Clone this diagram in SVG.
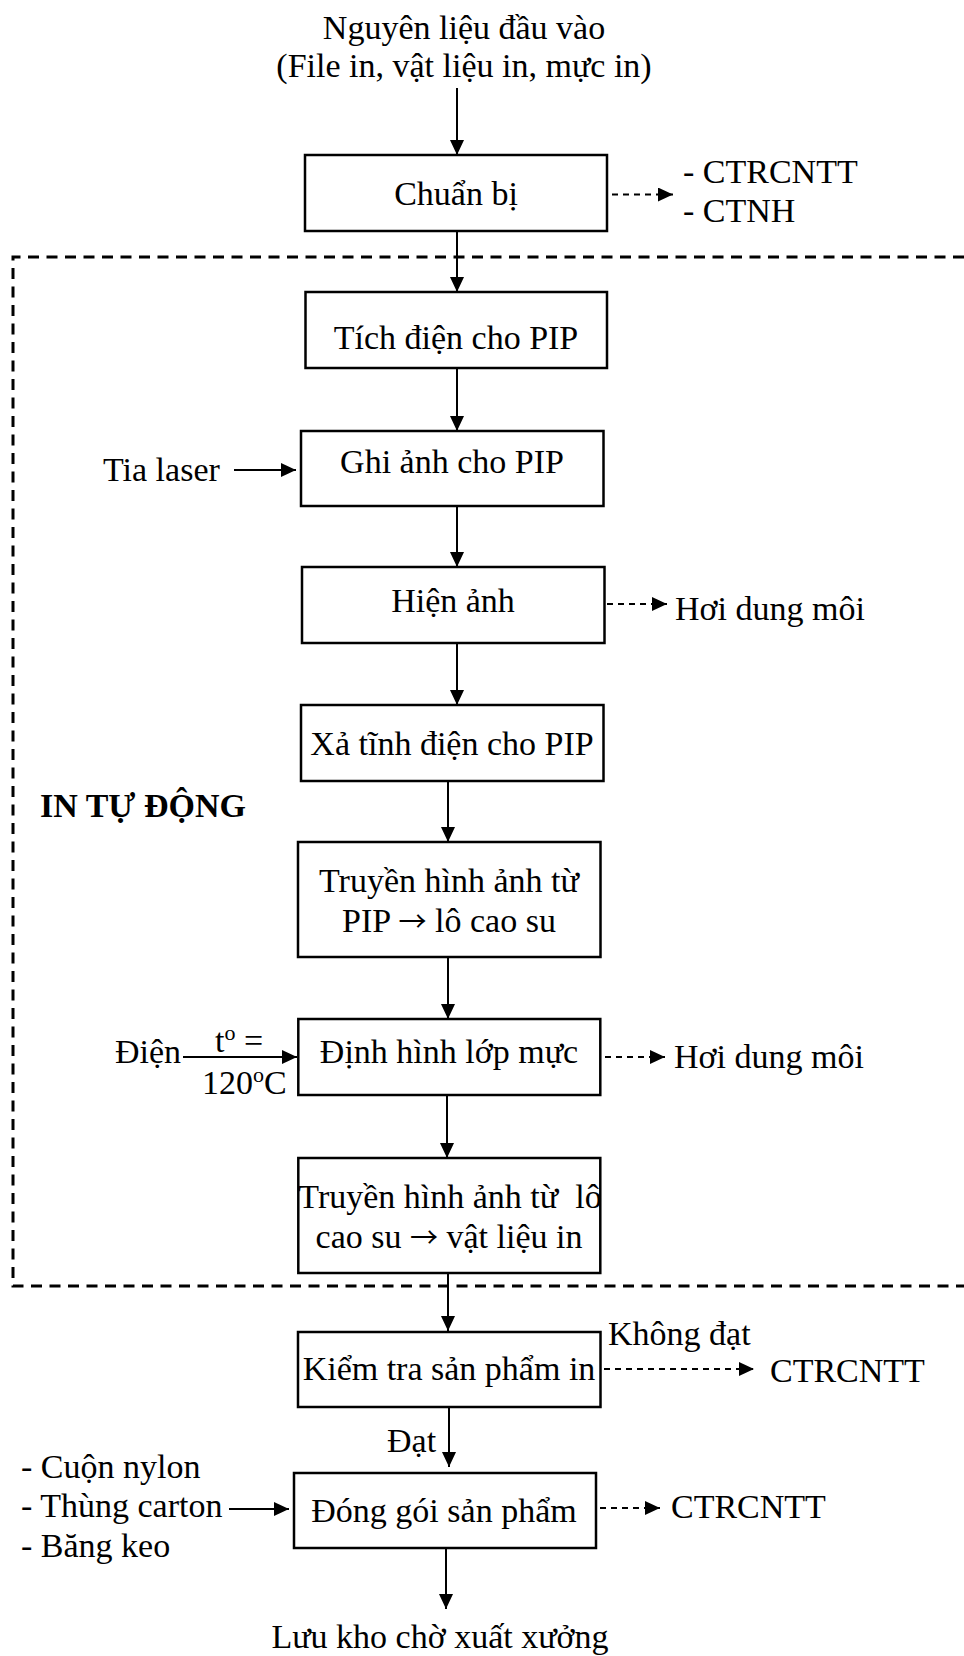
<svg xmlns="http://www.w3.org/2000/svg" width="964" height="1656" viewBox="0 0 964 1656">
  <style>
    text { font-family: "Liberation Serif", "Times New Roman", serif; font-size: 34px; fill: #000; }
    .c { text-anchor: middle; }
    .b { font-weight: bold; }
    .arr { font-family: "Noto Sans CJK SC", "DejaVu Serif", sans-serif; font-size: 28px; }
    .box { fill: #fff; stroke: #000; stroke-width: 2.5; }
    .ln { fill: none; stroke: #000; stroke-width: 2; }
    .dl { fill: none; stroke: #000; stroke-width: 2; stroke-dasharray: 6 5; }
    .frame { fill: none; stroke: #000; stroke-width: 3; stroke-dasharray: 11 7.5; }
  </style>
  <defs>
    <marker id="ah" markerUnits="userSpaceOnUse" markerWidth="15" markerHeight="14" refX="15" refY="7" orient="auto">
      <path d="M0,0 L15,7 L0,14 Z" fill="#000"/>
    </marker>
  </defs>

  <rect width="964" height="1656" fill="#fff"/>

  <!-- automatic printing zone -->
  <g id="zone">
    <path class="frame" d="M964,257 H13 V1286 H964"/>
    <text class="b" x="40" y="817">IN TỰ ĐỘNG</text>
  </g>

  <!-- connectors -->
  <g id="connectors">
    <line class="ln" x1="457" y1="88" x2="457" y2="155" marker-end="url(#ah)"/>
    <line class="ln" x1="457" y1="231" x2="457" y2="292" marker-end="url(#ah)"/>
    <line class="ln" x1="457" y1="368" x2="457" y2="431" marker-end="url(#ah)"/>
    <line class="ln" x1="457" y1="506" x2="457" y2="567" marker-end="url(#ah)"/>
    <line class="ln" x1="457" y1="643" x2="457" y2="705" marker-end="url(#ah)"/>
    <line class="ln" x1="448" y1="781" x2="448" y2="842" marker-end="url(#ah)"/>
    <line class="ln" x1="448" y1="957" x2="448" y2="1019" marker-end="url(#ah)"/>
    <line class="ln" x1="447" y1="1095" x2="447" y2="1158" marker-end="url(#ah)"/>
    <line class="ln" x1="448" y1="1273" x2="448" y2="1331" marker-end="url(#ah)"/>
    <line class="ln" x1="449" y1="1407" x2="449" y2="1467" marker-end="url(#ah)"/>
    <line class="ln" x1="446" y1="1548" x2="446" y2="1609" marker-end="url(#ah)"/>

    <line class="ln" x1="234" y1="470" x2="296" y2="470" marker-end="url(#ah)"/>
    <line class="ln" x1="183" y1="1057" x2="297" y2="1057" marker-end="url(#ah)"/>
    <line class="ln" x1="229" y1="1509" x2="289" y2="1509" marker-end="url(#ah)"/>

    <line class="dl" x1="612" y1="194.5" x2="673" y2="194.5" marker-end="url(#ah)"/>
    <line class="dl" x1="607" y1="604" x2="667" y2="604" marker-end="url(#ah)"/>
    <line class="dl" x1="605" y1="1057" x2="665" y2="1057" marker-end="url(#ah)"/>
    <line class="dl" x1="604" y1="1369" x2="754" y2="1369" marker-end="url(#ah)"/>
    <line class="dl" x1="600" y1="1508" x2="660" y2="1508" marker-end="url(#ah)"/>
  </g>

  <g id="input">
    <text class="c" x="464" y="39">Nguyên liệu đầu vào</text>
    <text class="c" x="464" y="77">(File in, vật liệu in, mực in)</text>
  </g>

  <g id="chuan-bi">
    <rect class="box" x="305" y="155" width="302" height="76"/>
    <text class="c" x="456" y="205">Chuẩn bị</text>
  </g>
  <g id="chat-thai-1">
    <text x="683" y="183">- CTRCNTT</text>
    <text x="683" y="222">- CTNH</text>
  </g>

  <g id="tich-dien">
    <rect class="box" x="305.5" y="292" width="301.5" height="76"/>
    <text class="c" x="456" y="349">Tích điện cho PIP</text>
  </g>

  <g id="ghi-anh">
    <rect class="box" x="301" y="431" width="302.5" height="75"/>
    <text class="c" x="452" y="473">Ghi ảnh cho PIP</text>
  </g>
  <g id="tia-laser">
    <text x="103" y="481">Tia laser</text>
  </g>

  <g id="hien-anh">
    <rect class="box" x="302" y="567" width="302.5" height="76"/>
    <text class="c" x="453" y="612">Hiện ảnh</text>
  </g>
  <g id="hoi-dung-moi-1">
    <text x="675" y="620">Hơi dung môi</text>
  </g>

  <g id="xa-tinh-dien">
    <rect class="box" x="301" y="705" width="302.5" height="76"/>
    <text class="c" x="452" y="755">Xả tĩnh điện cho PIP</text>
  </g>

  <g id="truyen-anh-1">
    <rect class="box" x="298" y="842" width="302.5" height="115"/>
    <text class="c" x="449" y="892">Truyền hình ảnh từ</text>
    <text class="c" x="449" y="932">PIP <tspan class="arr">→</tspan> lô cao su</text>
  </g>

  <g id="dinh-hinh">
    <rect class="box" x="298.3" y="1019" width="302" height="76"/>
    <text class="c" x="449" y="1063">Định hình lớp mực</text>
  </g>
  <g id="dien">
    <text x="115" y="1063">Điện</text>
    <text x="215" y="1052">t<tspan font-size="22" dy="-12">o</tspan><tspan dy="12"> =</tspan></text>
    <text x="202" y="1094">120<tspan font-size="22" dy="-12">o</tspan><tspan dy="12">C</tspan></text>
  </g>
  <g id="hoi-dung-moi-2">
    <text x="674" y="1068">Hơi dung môi</text>
  </g>

  <g id="truyen-anh-2">
    <rect class="box" x="298.3" y="1158" width="302" height="115"/>
    <text class="c" x="450" y="1208" xml:space="preserve">Truyền hình ảnh từ  lô</text>
    <text class="c" x="449" y="1248">cao su <tspan class="arr">→</tspan> vật liệu in</text>
  </g>

  <g id="kiem-tra">
    <rect class="box" x="298" y="1332" width="302.5" height="75"/>
    <text class="c" x="449" y="1380">Kiểm tra sản phẩm in</text>
  </g>
  <g id="khong-dat">
    <text x="608" y="1345">Không đạt</text>
    <text x="770" y="1382">CTRCNTT</text>
  </g>
  <g id="dat">
    <text x="387" y="1452">Đạt</text>
  </g>

  <g id="dong-goi">
    <rect class="box" x="294" y="1473" width="302" height="75"/>
    <text class="c" x="444" y="1522">Đóng gói sản phẩm</text>
  </g>
  <g id="vat-tu">
    <text x="21" y="1478">- Cuộn nylon</text>
    <text x="21" y="1517">- Thùng carton</text>
    <text x="21" y="1557">- Băng keo</text>
  </g>
  <g id="chat-thai-2">
    <text x="671" y="1518">CTRCNTT</text>
  </g>

  <g id="luu-kho">
    <text class="c" x="440" y="1648">Lưu kho chờ xuất xưởng</text>
  </g>
</svg>
